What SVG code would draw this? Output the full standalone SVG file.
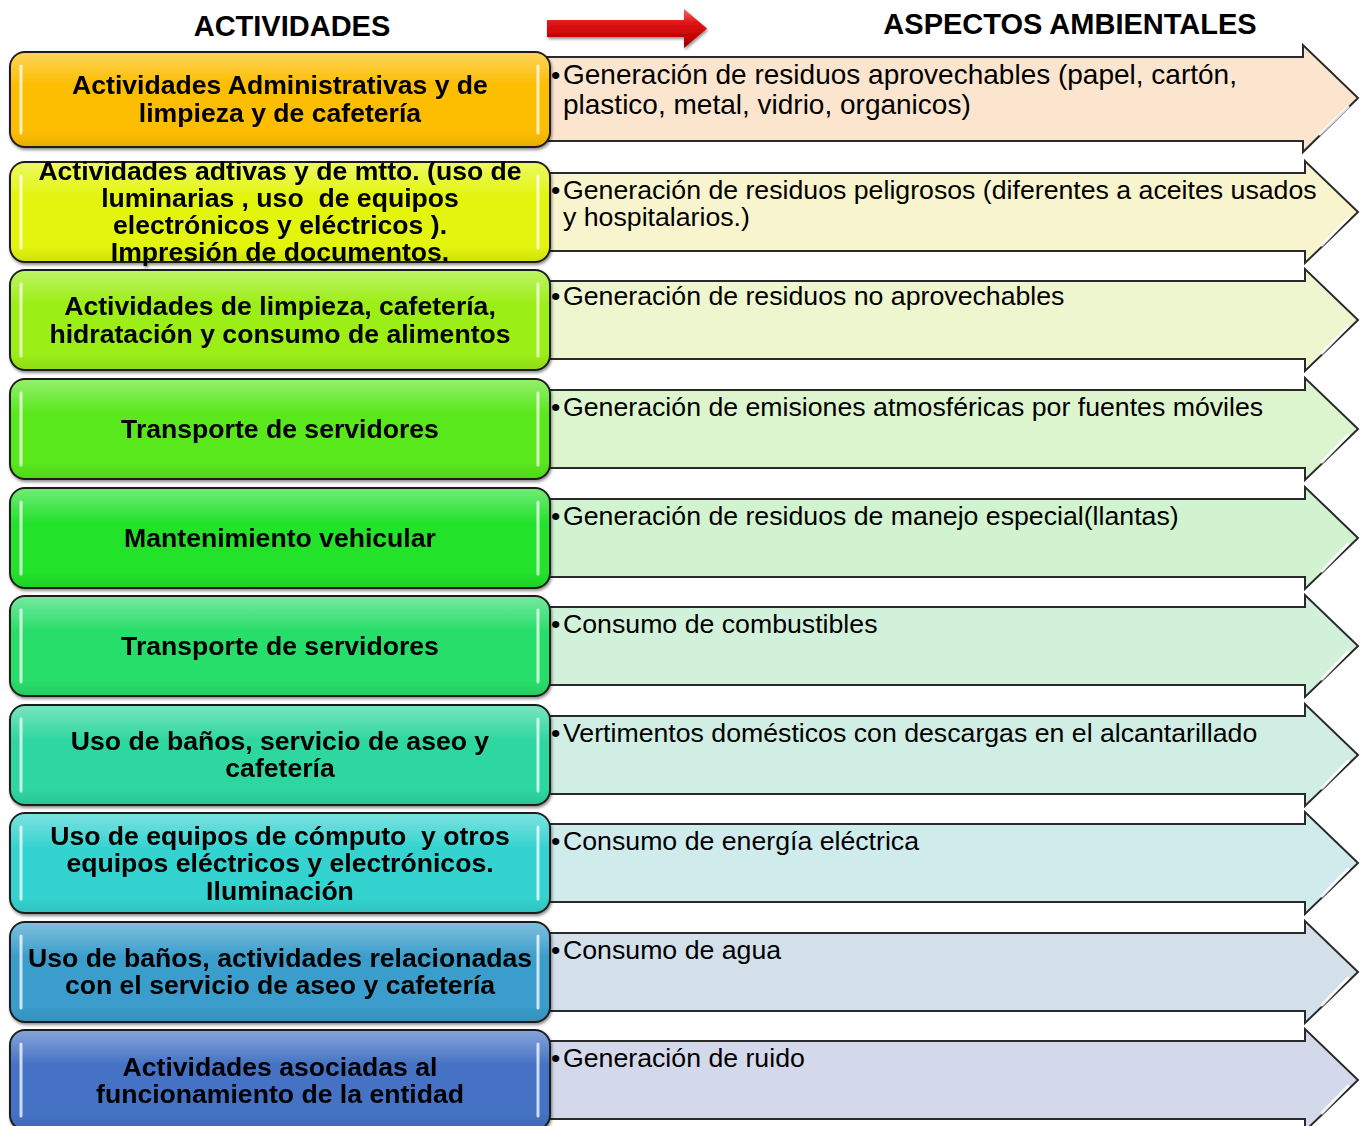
<svg xmlns="http://www.w3.org/2000/svg" width="1363" height="1126" viewBox="0 0 1363 1126">
<defs>
<style>
.hdr{font-family:"Liberation Sans",Arial,sans-serif;font-weight:bold;font-size:29px;fill:#000;text-anchor:middle}
.act{font-family:"Liberation Sans",Arial,sans-serif;font-weight:bold;font-size:26.6px;fill:#000;text-anchor:middle}
.asp{font-family:"Liberation Sans",Arial,sans-serif;font-size:26.7px;fill:#000}
.asp1{font-size:28px}
.box{stroke:#1e1e1e;stroke-width:2}
.arr{stroke:#2a2a2a;stroke-width:2;stroke-linejoin:miter}
.gloss{fill:url(#gloss);stroke:none}
.hl{stroke:#ffffff;stroke-opacity:.75;stroke-width:3;stroke-linecap:round;fill:none}
.bev{stroke:#ffffff;stroke-opacity:.85;stroke-width:3;stroke-linecap:round;fill:none}
</style>
<linearGradient id="gloss" x1="0" y1="0" x2="0" y2="1">
<stop offset="0" stop-color="#ffffff" stop-opacity=".35"/>
<stop offset=".35" stop-color="#ffffff" stop-opacity="0"/>
<stop offset=".85" stop-color="#000000" stop-opacity="0"/>
<stop offset="1" stop-color="#000000" stop-opacity=".08"/>
</linearGradient>
<linearGradient id="red" x1="0" y1="0" x2="0" y2="1">
<stop offset="0" stop-color="#f56565"/>
<stop offset=".35" stop-color="#e01515"/>
<stop offset=".75" stop-color="#c00000"/>
<stop offset="1" stop-color="#8a0000"/>
</linearGradient>
<filter id="sh" x="-5%" y="-20%" width="110%" height="150%">
<feGaussianBlur in="SourceAlpha" stdDeviation="1.5"/>
<feOffset dx="1" dy="2" result="b"/>
<feComponentTransfer><feFuncA type="linear" slope=".45"/></feComponentTransfer>
<feMerge><feMergeNode/><feMergeNode in="SourceGraphic"/></feMerge>
</filter>
</defs>

<rect x="0" y="0" width="1363" height="1126" fill="#ffffff"/>

<g id="headers">
<text class="hdr" x="292" y="36">ACTIVIDADES</text>
<text class="hdr" x="1070" y="34">ASPECTOS AMBIENTALES</text>
<path d="M547,20 H684 V9 L707,28.5 L684,48 V37 H547 Z" fill="url(#red)" filter="url(#sh)"/>
</g>

<g id="connectors">
<g id="arrow1">
<path class="arr" d="M545,57 H1303 V45 L1358,98 L1303,152 V141 H545 Z" fill="#fbe5cf"/>
<path class="bev" d="M1348,107 L1320,134"/>
<text class="asp" x="551" y="84">•</text>
<text class="asp asp1" x="563" y="84">Generación de residuos aprovechables (papel, cartón,</text>
<text class="asp asp1" x="563" y="114">plastico, metal, vidrio, organicos)</text>
</g>
<g id="arrow2">
<path class="arr" d="M545,173 H1305 V161 L1358,212 L1305,263 V251 H545 Z" fill="#f8f4ce"/>
<path class="bev" d="M1348,218 L1322,245"/>
<text class="asp" x="551" y="199">•</text>
<text class="asp" x="563" y="199">Generación de residuos peligrosos (diferentes a aceites usados</text>
<text class="asp" x="563" y="226">y hospitalarios.)</text>
</g>
<g id="arrow3">
<path class="arr" d="M545,281 H1305 V269 L1358,320 L1305,371 V359 H545 Z" fill="#eef6cf"/>
<path class="bev" d="M1348,326 L1322,353"/>
<text class="asp" x="551" y="305">•</text>
<text class="asp" x="563" y="305">Generación de residuos no aprovechables</text>
</g>
<g id="arrow4">
<path class="arr" d="M545,390 H1305 V378 L1358,429 L1305,480 V468 H545 Z" fill="#ddf5cf"/>
<path class="bev" d="M1348,435 L1322,462"/>
<text class="asp" x="551" y="416">•</text>
<text class="asp" x="563" y="416">Generación de emisiones atmosféricas por fuentes móviles</text>
</g>
<g id="arrow5">
<path class="arr" d="M545,499 H1305 V487 L1358,538 L1305,589 V577 H545 Z" fill="#d2f3d0"/>
<path class="bev" d="M1348,544 L1322,571"/>
<text class="asp" x="551" y="525">•</text>
<text class="asp" x="563" y="525">Generación de residuos de manejo especial(llantas)</text>
</g>
<g id="arrow6">
<path class="arr" d="M545,607 H1305 V595 L1358,646 L1305,697 V685 H545 Z" fill="#d2f1da"/>
<path class="bev" d="M1348,652 L1322,679"/>
<text class="asp" x="551" y="633">•</text>
<text class="asp" x="563" y="633">Consumo de combustibles</text>
</g>
<g id="arrow7">
<path class="arr" d="M545,716 H1305 V704 L1358,755 L1305,806 V794 H545 Z" fill="#d1eee4"/>
<path class="bev" d="M1348,761 L1322,788"/>
<text class="asp" x="551" y="742">•</text>
<text class="asp" x="563" y="742">Vertimentos domésticos con descargas en el alcantarillado</text>
</g>
<g id="arrow8">
<path class="arr" d="M545,824 H1305 V812 L1358,863 L1305,914 V902 H545 Z" fill="#cfebec"/>
<path class="bev" d="M1348,869 L1322,896"/>
<text class="asp" x="551" y="850">•</text>
<text class="asp" x="563" y="850">Consumo de energía eléctrica</text>
</g>
<g id="arrow9">
<path class="arr" d="M545,933 H1305 V921 L1358,972 L1305,1023 V1011 H545 Z" fill="#d3e0ea"/>
<path class="bev" d="M1348,978 L1322,1005"/>
<text class="asp" x="551" y="959">•</text>
<text class="asp" x="563" y="959">Consumo de agua</text>
</g>
<g id="arrow10">
<path class="arr" d="M545,1041 H1305 V1029 L1358,1080 L1305,1131 V1119 H545 Z" fill="#d3d8ea"/>
<path class="bev" d="M1348,1086 L1322,1113"/>
<text class="asp" x="551" y="1067">•</text>
<text class="asp" x="563" y="1067">Generación de ruido</text>
</g>
</g>

<g id="box1" filter="url(#sh)">
<rect class="box" x="10" y="52" width="540" height="95" rx="15" fill="#fdbd00"/>
<rect class="gloss" x="11" y="53" width="538" height="93" rx="14"/>
<path class="hl" d="M21,66 V133 M538,66 V133"/>
<text class="act" x="280" y="94">Actividades Administrativas y de</text>
<text class="act" x="280" y="122">limpieza y de cafetería</text>
</g>
<g id="box2" filter="url(#sh)">
<rect class="box" x="10" y="162" width="540" height="100" rx="15" fill="#e3f50d"/>
<rect class="gloss" x="11" y="163" width="538" height="98" rx="14"/>
<path class="hl" d="M21,176 V248 M538,176 V248"/>
<text class="act" x="280" y="180">Actividades adtivas y de mtto. (uso de</text>
<text class="act" x="280" y="207" xml:space="preserve">luminarias , uso  de equipos</text>
<text class="act" x="280" y="234">electrónicos y eléctricos ).</text>
<text class="act" x="280" y="261">Impresión de documentos.</text>
</g>
<g id="box3" filter="url(#sh)">
<rect class="box" x="10" y="270" width="540" height="100" rx="15" fill="#9bee13"/>
<rect class="gloss" x="11" y="271" width="538" height="98" rx="14"/>
<path class="hl" d="M21,284 V356 M538,284 V356"/>
<text class="act" x="280" y="315">Actividades de limpieza, cafetería,</text>
<text class="act" x="280" y="343">hidratación y consumo de alimentos</text>
</g>
<g id="box4" filter="url(#sh)">
<rect class="box" x="10" y="379" width="540" height="100" rx="15" fill="#58e81b"/>
<rect class="gloss" x="11" y="380" width="538" height="98" rx="14"/>
<path class="hl" d="M21,393 V465 M538,393 V465"/>
<text class="act" x="280" y="438">Transporte de servidores</text>
</g>
<g id="box5" filter="url(#sh)">
<rect class="box" x="10" y="488" width="540" height="100" rx="15" fill="#22e22b"/>
<rect class="gloss" x="11" y="489" width="538" height="98" rx="14"/>
<path class="hl" d="M21,502 V574 M538,502 V574"/>
<text class="act" x="280" y="547">Mantenimiento vehicular</text>
</g>
<g id="box6" filter="url(#sh)">
<rect class="box" x="10" y="596" width="540" height="100" rx="15" fill="#28de69"/>
<rect class="gloss" x="11" y="597" width="538" height="98" rx="14"/>
<path class="hl" d="M21,610 V682 M538,610 V682"/>
<text class="act" x="280" y="655">Transporte de servidores</text>
</g>
<g id="box7" filter="url(#sh)">
<rect class="box" x="10" y="705" width="540" height="100" rx="15" fill="#2ed79f"/>
<rect class="gloss" x="11" y="706" width="538" height="98" rx="14"/>
<path class="hl" d="M21,719 V791 M538,719 V791"/>
<text class="act" x="280" y="750">Uso de baños, servicio de aseo y</text>
<text class="act" x="280" y="777">cafetería</text>
</g>
<g id="box8" filter="url(#sh)">
<rect class="box" x="10" y="813" width="540" height="100" rx="15" fill="#34d3d0"/>
<rect class="gloss" x="11" y="814" width="538" height="98" rx="14"/>
<path class="hl" d="M21,827 V899 M538,827 V899"/>
<text class="act" x="280" y="845" xml:space="preserve">Uso de equipos de cómputo  y otros</text>
<text class="act" x="280" y="872">equipos eléctricos y electrónicos.</text>
<text class="act" x="280" y="900">Iluminación</text>
</g>
<g id="box9" filter="url(#sh)">
<rect class="box" x="10" y="922" width="540" height="100" rx="15" fill="#3a9dcb"/>
<rect class="gloss" x="11" y="923" width="538" height="98" rx="14"/>
<path class="hl" d="M21,936 V1008 M538,936 V1008"/>
<text class="act" x="280" y="967">Uso de baños, actividades relacionadas</text>
<text class="act" x="280" y="994">con el servicio de aseo y cafetería</text>
</g>
<g id="box10" filter="url(#sh)">
<rect class="box" x="10" y="1030" width="540" height="100" rx="15" fill="#4472c4"/>
<rect class="gloss" x="11" y="1031" width="538" height="98" rx="14"/>
<path class="hl" d="M21,1044 V1116 M538,1044 V1116"/>
<text class="act" x="280" y="1076">Actividades asociadas al</text>
<text class="act" x="280" y="1103">funcionamiento de la entidad</text>
</g>
</svg>
